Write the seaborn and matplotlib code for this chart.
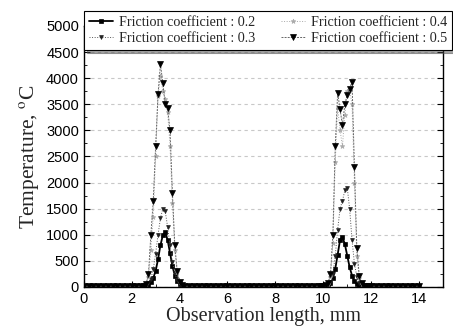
import numpy as np
import pandas as pd
import matplotlib
matplotlib.use("Agg")
import matplotlib.pyplot as plt
from matplotlib.ticker import MultipleLocator
import seaborn as sns

# ---- data ----
x_base_left = [0.0, 0.2, 0.4, 0.6, 0.8, 1.0, 1.2, 1.4, 1.6, 1.8, 2.0, 2.2, 2.4]
x_peak1 = [2.5, 2.6, 2.7, 2.8, 2.9, 3.0, 3.1, 3.2, 3.3, 3.4, 3.5, 3.6, 3.7, 3.8, 3.9, 4.0, 4.1, 4.2]
x_base_mid = [4.4, 4.6, 4.8, 5.0, 5.2, 5.4, 5.6, 5.8, 6.0, 6.2, 6.4, 6.6, 6.8, 7.0,
              7.2, 7.4, 7.6, 7.8, 8.0, 8.2, 8.4, 8.6, 8.8, 9.0, 9.2, 9.4, 9.6, 9.8]
x_peak2 = [9.9, 10.0, 10.1, 10.2, 10.3, 10.4, 10.5, 10.6, 10.7, 10.8, 10.9, 11.0,
           11.1, 11.2, 11.3, 11.4, 11.5, 11.6, 11.7, 11.8, 11.9]
x_base_right = [12.0, 12.2, 12.4, 12.6, 12.8, 13.0, 13.2, 13.4, 13.6, 13.8, 14.0]

base_left = [20, 20, 20, 20, 20, 20, 20, 20, 20, 20, 20, 20, 20]
base_mid = [20, 20, 20, 20, 20, 20, 20, 20, 20, 20, 20, 20, 20, 20,
            20, 20, 20, 20, 20, 20, 20, 20, 20, 20, 20, 20, 20, 20]
base_right = [20, 20, 20, 20, 20, 20, 20, 20, 20, 20, 20]

labels = ["Friction coefficient : 0.2", "Friction coefficient : 0.3",
          "Friction coefficient : 0.4", "Friction coefficient : 0.5"]

peak1_02 = [15, 25, 45, 90, 170, 310, 530, 800, 990, 1050, 900, 650, 400, 220, 110, 50, 25, 15]
peak1_03 = [15, 30, 70, 160, 340, 640, 1000, 1320, 1500, 1450, 1150, 800, 480, 260, 130, 60, 30, 15]
peak1_04 = [20, 50, 200, 700, 1350, 2500, 3650, 4050, 3750, 3600, 3350, 2700, 1600, 700, 280, 100, 40, 20]
peak1_05 = [20, 60, 250, 1000, 1650, 2700, 3700, 4270, 3900, 3500, 3420, 3000, 1800, 800, 300, 100, 40, 20]

peak2_02 = [15, 15, 20, 40, 80, 170, 350, 620, 900, 960, 820, 600, 380, 220, 110, 50, 25, 15, 15, 15, 15]
peak2_03 = [15, 15, 20, 40, 90, 250, 600, 1100, 1500, 1650, 1850, 1900, 1500, 900, 450, 200, 80, 30, 15, 15, 15]
peak2_04 = [15, 15, 25, 60, 200, 850, 2400, 3430, 3000, 2700, 3300, 3750, 3780, 3500, 2000, 600, 180, 60, 20, 15, 15]
peak2_05 = [15, 15, 30, 80, 250, 1000, 2700, 3720, 3400, 3100, 3500, 3680, 3800, 3930, 2300, 750, 220, 70, 25, 15, 15]

peaks1 = [peak1_02, peak1_03, peak1_04, peak1_05]
peaks2 = [peak2_02, peak2_03, peak2_04, peak2_05]

x_all = x_base_left + x_peak1 + x_base_mid + x_peak2 + x_base_right
rows = []
for lab, p1, p2 in zip(labels, peaks1, peaks2):
    ys = base_left + p1 + base_mid + p2 + base_right
    for xv, yv in zip(x_all, ys):
        rows.append({"x": xv, "T": yv, "series": lab})
df = pd.DataFrame(rows)

# ---- styling ----
sns.set_theme(style="white")
plt.rcParams["mathtext.fontset"] = "stix"

fig = plt.figure(figsize=(4.53, 3.28), dpi=100)
ax = fig.add_axes([0.185, 0.125, 0.793, 0.796])

styles = {
    labels[0]: dict(color="black", ls="-", lw=1.3, marker="s", ms=3.0, mec="black", mfc="black"),
    labels[1]: dict(color="#555555", ls=":", lw=0.7, marker="v", ms=2.8, mec="#222222", mfc="#222222"),
    labels[2]: dict(color="#a8a8a8", ls=":", lw=0.7, marker="*", ms=3.5, mec="#aaaaaa", mfc="#aaaaaa"),
    labels[3]: dict(color="#666666", ls=(0, (2, 1.2)), lw=0.7, marker="v", ms=3.8, mec="black", mfc="black"),
}

for lab in labels:
    st = styles[lab]
    sub = df[df["series"] == lab]
    sns.lineplot(data=sub, x="x", y="T", ax=ax, label=lab, color=st["color"],
                 linestyle=st["ls"], linewidth=st["lw"], marker=st["marker"],
                 markersize=st["ms"], markeredgecolor=st["mec"], markerfacecolor=st["mfc"],
                 markeredgewidth=0.5, sort=False, estimator=None)

ax.set_xlim(0, 15)
ax.set_ylim(0, 5000)
ax.xaxis.set_major_locator(MultipleLocator(2))
ax.xaxis.set_minor_locator(MultipleLocator(1))
ax.yaxis.set_major_locator(MultipleLocator(500))
ax.yaxis.set_minor_locator(MultipleLocator(250))
ax.tick_params(which="both", direction="in", left=True, right=True, bottom=True, top=False,
               labelsize=10.5, colors="black")
ax.tick_params(which="major", length=4, width=0.8)
ax.tick_params(which="minor", length=2, width=0.6)
for lbl in ax.get_xticklabels() + ax.get_yticklabels():
    lbl.set_fontfamily("Liberation Sans")
ax.yaxis.grid(True, which="major", color="#c8c8c8", linestyle=(0, (3, 3)), linewidth=0.8)
ax.xaxis.grid(False)
for sp in ax.spines.values():
    sp.set_color("black")
    sp.set_linewidth(1.0)

ax.set_xlabel("Observation length, mm", fontfamily="Liberation Serif", fontsize=14.5, labelpad=1)
ax.set_ylabel(r"Temperature, $^{\mathrm{o}}$C", fontfamily="Liberation Serif", fontsize=15.5, labelpad=4)

leg = ax.legend(ncol=2, loc="lower left", mode="expand",
                bbox_to_anchor=(0.185, 0.848, 0.813, 0.122), bbox_transform=fig.transFigure,
                prop={"family": "Liberation Serif", "size": 10.2},
                frameon=True, fancybox=False, shadow=True, edgecolor="black",
                handlelength=1.7, handletextpad=0.4, columnspacing=0.8,
                borderpad=0.35, labelspacing=0.2, borderaxespad=0)
leg.get_frame().set_linewidth(0.8)
leg.get_frame().set_facecolor("white")
leg.get_frame().set_alpha(1)

fig.savefig("out.png", dpi=100)
